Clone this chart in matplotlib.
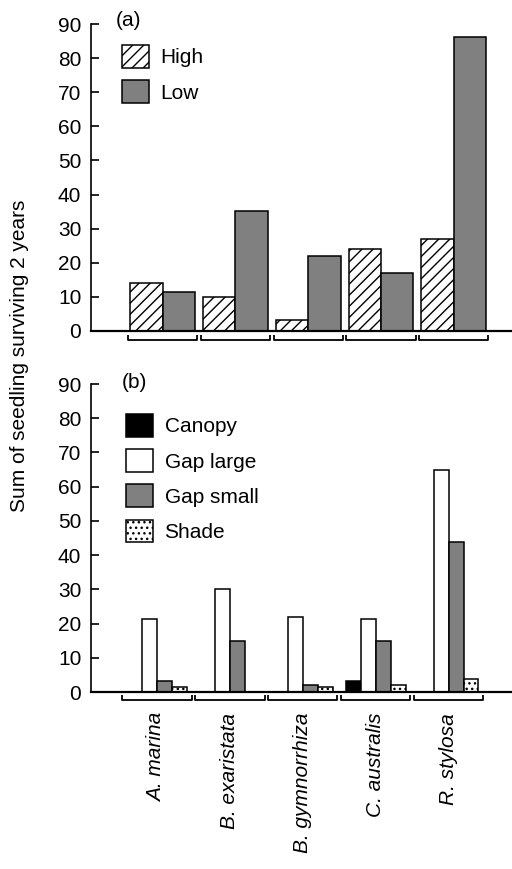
import numpy as np
import matplotlib
matplotlib.use("Agg")
import matplotlib.pyplot as plt

plt.rcParams['font.family'] = ['Liberation Sans', 'DejaVu Sans']
plt.rcParams['hatch.linewidth'] = 1.0

# Данные
species = ["A. marina", "B. exaristata", "B. gymnorrhiza", "C. australis", "R. stylosa"]

# (a) свет
high = [14, 10, 3.3, 24, 27]
low = [11.4, 35.2, 22.1, 17, 86.3]

# (b) местообитание
canopy = [0, 0, 0, 3.2, 0]
gap_large = [21.4, 30, 22, 21.4, 65]
gap_small = [3.2, 15, 2, 15, 43.8]
shade = [1.4, 0, 1.4, 2, 3.9]

W, H = 512, 869
fig = plt.figure(figsize=(W / 100, H / 100), dpi=100)

ax_left = 91 / W
ax_w = 1 - ax_left
ax1 = fig.add_axes([ax_left, (H - 331) / H, ax_w, 307 / H])
ax2 = fig.add_axes([ax_left, (H - 692) / H, ax_w, 308 / H])

x = np.arange(len(species))
fs = 15
lw = 1.2


def style_axis(ax, xlim, y_br):
    ax.set_xlim(*xlim)
    ax.set_ylim(0, 90)
    ax.set_yticks(np.arange(0, 91, 10))
    ax.spines['top'].set_visible(False)
    ax.spines['right'].set_visible(False)
    ax.spines['left'].set_linewidth(lw)
    ax.spines['bottom'].set_linewidth(1.6)
    ax.tick_params(axis='y', direction='in', length=6, width=lw,
                   labelsize=fs, pad=7)
    ax.tick_params(axis='x', length=0)
    # скобки под группами
    tr = ax.get_xaxis_transform()
    for xi in x:
        x0, x1 = xi - 0.475, xi + 0.475
        ax.plot([x0, x0, x1, x1], [y_br + 0.017, y_br, y_br, y_br + 0.017],
                color='black', lw=1.3, transform=tr, clip_on=False,
                solid_capstyle='butt')


leg_kw = dict(bbox_transform=fig.transFigure, frameon=False, fontsize=fs,
              handlelength=1.3, handleheight=1.3, handletextpad=0.55,
              labelspacing=0.6, borderpad=0, borderaxespad=0)

# (a)
bw = 0.445
ax1.bar(x - bw / 2, high, bw, color='white', edgecolor='black',
        hatch='///', linewidth=1.1, label='High')
ax1.bar(x + bw / 2, low, bw, color='#808080', edgecolor='black',
        linewidth=1.1, label='Low')
style_axis(ax1, (-0.985, 4.8), -0.029)
ax1.set_xticks(x)
ax1.set_xticklabels([])
ax1.legend(loc='upper left', bbox_to_anchor=(122 / W, (H - 45) / H), **leg_kw)

# (b)
bw2 = 0.205
ax2.bar(x - 1.5 * bw2, canopy, bw2, color='black', edgecolor='black',
        linewidth=1.1, label='Canopy')
ax2.bar(x - 0.5 * bw2, gap_large, bw2, color='white', edgecolor='black',
        linewidth=1.1, label='Gap large')
ax2.bar(x + 0.5 * bw2, gap_small, bw2, color='#808080', edgecolor='black',
        linewidth=1.1, label='Gap small')
ax2.bar(x + 1.5 * bw2, shade, bw2, color='white', edgecolor='black',
        hatch='...', linewidth=1.1, label='Shade')
style_axis(ax2, (-0.905, 4.87), -0.026)
ax2.set_xticks(x)
ax2.set_xticklabels(species, rotation=90, style='italic', fontsize=fs,
                    va='top', ha='center')
ax2.tick_params(axis='x', pad=15)
ax2.legend(loc='upper left', bbox_to_anchor=(126 / W, (H - 414) / H), **leg_kw)

# подписи
fig.text(116 / W, 1 - 21 / H, "(a)", fontsize=fs, ha='left', va='center')
fig.text(122 / W, 1 - 383 / H, "(b)", fontsize=fs, ha='left', va='center')
fig.text(20 / W, 1 - 356 / H, "Sum of seedling surviving 2 years",
         fontsize=fs, rotation=90, ha='center', va='center')

fig.savefig("out.png", dpi=100)
